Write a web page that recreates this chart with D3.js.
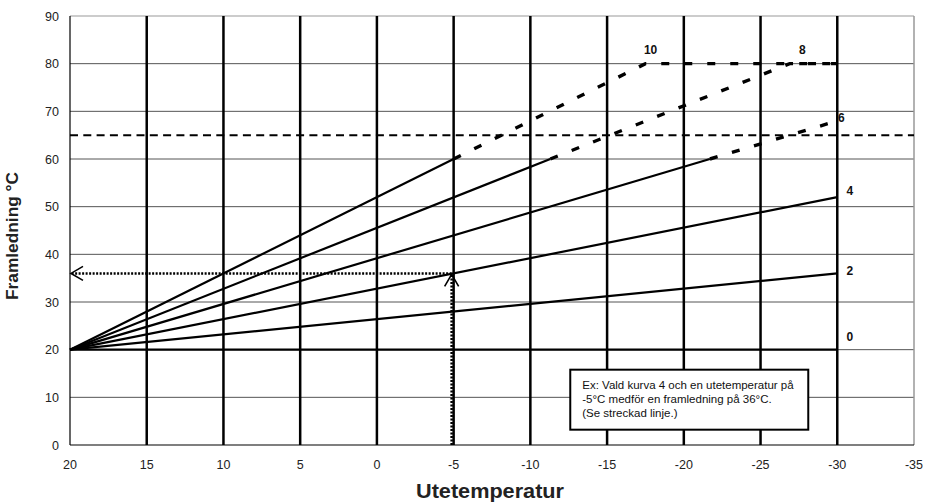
<!DOCTYPE html>
<html>
<head>
<meta charset="utf-8">
<script src="https://cdn.jsdelivr.net/npm/d3@7"></script>
<style>
  body { margin: 0; background: #fff; }
  text { font-family: "Liberation Sans", Arial, sans-serif; }
</style>
</head>
<body>
<div id="chart"></div>
<script>
// outdoor temperature axis (reversed) and supply temperature axis
const xTicks = [20, 15, 10, 5, 0, -5, -10, -15, -20, -25, -30, -35];
const yTicks = [0, 10, 20, 30, 40, 50, 60, 70, 80, 90];

// heating curves: solid part and dashed part as [outdoor, supply]
const curveNames = ["0", "2", "4", "6", "8", "10"];
const curveSolid = [
  [[20, 20], [-30, 20]],
  [[20, 20], [-30, 36]],
  [[20, 20], [-30, 52]],
  [[20, 20], [-21.7, 60]],
  [[20, 20], [-11.3, 60]],
  [[20, 20], [-5, 60]]
];
const curveDashed = [
  [],
  [],
  [],
  [[-21.7, 60], [-30, 68]],
  [[-11.3, 60], [-26.9, 80], [-30, 80]],
  [[-5, 60], [-17.5, 80], [-30, 80]]
];
const labelAt = [[-30.6, 21.8], [-30.6, 35.6], [-30.6, 52.4], [-30.05, 67.7], [-27.5, 82], [-17.4, 82]];

const limitTemp = 65;
const exampleOut = -5, exampleSupply = 36;
const noteLines = ["Ex: Vald kurva 4 och en utetemperatur på", "-5°C medför en framledning på 36°C.", "(Se streckad linje.)"];

var margin = { top: 16, right: 12, bottom: 59, left: 70 },
  width = 926 - margin.left - margin.right,
  height = 504 - margin.top - margin.bottom;

var svg = d3.select("#chart").append("svg")
  .attr("width", 926).attr("height", 504)
  .append("g")
  .attr("transform", "translate(" + margin.left + "," + margin.top + ")");

var x = d3.scaleLinear().domain([20, -35]).range([0, width]);
var y = d3.scaleLinear().domain([0, 90]).range([height, 0]);

// horizontal grid
svg.selectAll(".hgrid").data(yTicks.slice(1)).enter().append("line")
  .attr("x1", 0).attr("x2", width)
  .attr("y1", d => y(d)).attr("y2", d => y(d))
  .attr("stroke", d => d == 90 ? "#999" : "#555").attr("stroke-width", 1);

// vertical grid
svg.selectAll(".vgrid").data(xTicks.slice(1)).enter().append("line")
  .attr("x1", d => x(d)).attr("x2", d => x(d))
  .attr("y1", 0).attr("y2", height)
  .attr("stroke", d => d == -35 ? "#999" : "#000")
  .attr("stroke-width", d => d == -35 ? 1.5 : 2.5);

// axes lines
svg.append("line").attr("x1", 0).attr("x2", width).attr("y1", height).attr("y2", height)
  .attr("stroke", "#000").attr("stroke-width", 1.2);
svg.append("line").attr("x1", 0).attr("x2", 0).attr("y1", 0).attr("y2", height)
  .attr("stroke", "#000").attr("stroke-width", 1.2);

// tick labels
svg.selectAll(".yl").data(yTicks).enter().append("text")
  .attr("x", -11).attr("y", d => y(d)).attr("dy", "0.36em")
  .attr("text-anchor", "end").attr("font-size", 12.5).attr("fill", "#222")
  .text(d => d);
svg.selectAll(".xl").data(xTicks).enter().append("text")
  .attr("x", d => x(d)).attr("y", height + 24)
  .attr("text-anchor", "middle").attr("font-size", 12.5).attr("fill", "#222")
  .text(d => d);

// axis titles
svg.append("text")
  .attr("transform", "translate(" + (-52) + "," + (236 - margin.top) + ") rotate(-90)")
  .attr("text-anchor", "middle").attr("font-size", 16).attr("font-weight", "bold").attr("fill", "#222")
  .attr("textLength", 128).attr("lengthAdjust", "spacingAndGlyphs")
  .text("Framledning °C");
svg.append("text")
  .attr("x", 490 - margin.left).attr("y", height + 53)
  .attr("text-anchor", "middle").attr("font-size", 20).attr("font-weight", "bold").attr("fill", "#222")
  .attr("textLength", 148).attr("lengthAdjust", "spacingAndGlyphs")
  .text("Utetemperatur");

// limit line
svg.append("line")
  .attr("x1", 0).attr("x2", width).attr("y1", y(limitTemp)).attr("y2", y(limitTemp))
  .attr("stroke", "#000").attr("stroke-width", 2).attr("stroke-dasharray", "8,5.3");

var line = d3.line().x(d => x(d[0])).y(d => y(d[1]));

svg.selectAll(".solid").data(curveSolid).enter().append("path")
  .attr("d", line).attr("fill", "none").attr("stroke", "#000").attr("stroke-width", 2.2);
svg.selectAll(".dashed").data(curveDashed.filter(d => d.length)).enter().append("path")
  .attr("d", line).attr("fill", "none").attr("stroke", "#000").attr("stroke-width", 3.4)
  .attr("stroke-dasharray", "8,15");

svg.selectAll(".clabel").data(curveNames).enter().append("text")
  .attr("x", (d, i) => x(labelAt[i][0])).attr("y", (d, i) => y(labelAt[i][1]))
  .attr("font-size", 12).attr("font-weight", "bold").attr("fill", "#111")
  .text(d => d);

// example: dotted arrows
var ex = x(exampleOut) - 2, ey = y(exampleSupply);
svg.append("line").attr("x1", ex).attr("x2", ex).attr("y1", height).attr("y2", ey + 1)
  .attr("stroke", "#000").attr("stroke-width", 2.5).attr("stroke-dasharray", "2,1.5");
svg.append("line").attr("x1", ex).attr("x2", 2).attr("y1", ey).attr("y2", ey)
  .attr("stroke", "#000").attr("stroke-width", 2.5).attr("stroke-dasharray", "2,1.5");
svg.append("path")
  .attr("d", "M" + (ex - 7) + "," + (ey + 13) + "L" + ex + "," + (ey + 1) + "L" + (ex + 7) + "," + (ey + 13))
  .attr("fill", "none").attr("stroke", "#000").attr("stroke-width", 1.6);
svg.append("path")
  .attr("d", "M" + 13 + "," + (ey - 7) + "L" + 1 + "," + ey + "L" + 13 + "," + (ey + 7))
  .attr("fill", "none").attr("stroke", "#000").attr("stroke-width", 1.6);

// note box
var bx = x(-12.6), by = y(15.8);
svg.append("rect").attr("x", bx).attr("y", by).attr("width", 238).attr("height", 60)
  .attr("fill", "#fff").attr("stroke", "#000").attr("stroke-width", 2);
svg.selectAll(".note").data(noteLines).enter().append("text")
  .attr("x", bx + 12).attr("y", (d, i) => by + 19 + i * 14)
  .attr("font-size", 11.5).attr("fill", "#111")
  .text(d => d);
</script>
</body>
</html>
